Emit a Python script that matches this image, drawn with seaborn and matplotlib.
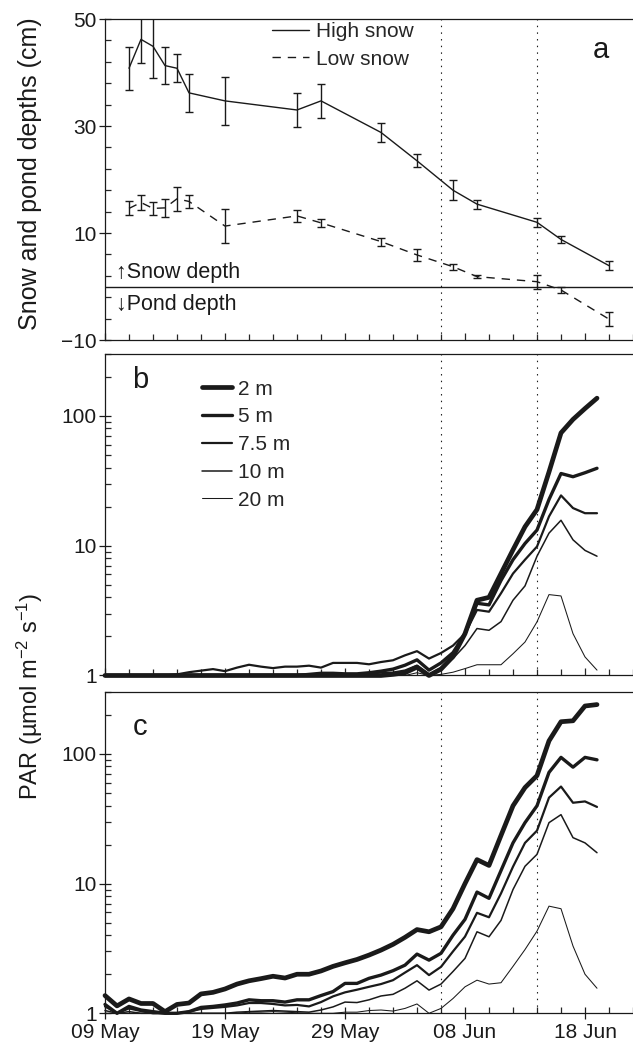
import numpy as np
import pandas as pd
import matplotlib
matplotlib.use("Agg")
import matplotlib.pyplot as plt
import seaborn as sns
from matplotlib.ticker import FixedLocator, LogLocator, NullFormatter, FuncFormatter, MultipleLocator

# ---------------- data ----------------
snow_days = [2, 3, 4, 5, 6, 7, 10, 16, 18, 23, 26, 29, 31, 36, 38, 42]   # days after 09 May
high_snow = [40.8, 46.2, 44.9, 41.3, 40.8, 36.2, 34.7, 33.0, 34.7, 28.8, 23.5, 18.0, 15.4, 12.0, 8.8, 3.9]
high_err = [4.0, 4.4, 6.0, 3.4, 2.6, 3.5, 4.5, 3.2, 3.2, 1.8, 1.25, 1.85, 0.85, 0.9, 0.65, 0.85]
low_snow = [14.6, 15.7, 14.6, 14.7, 16.4, 15.9, 11.3, 13.2, 11.9, 8.4, 5.9, 3.7, 1.85, 0.9, -0.65, -6.1]
low_err = [1.3, 1.35, 1.15, 1.7, 2.2, 1.15, 3.2, 1.1, 0.75, 0.75, 1.1, 0.6, 0.35, 1.3, 0.6, 1.25]

par_days = list(range(42))   # daily, 09 May .. 19 Jun
depths = ["2 m", "5 m", "7.5 m", "10 m", "20 m"]

b_2m = [1.0, 1.0, 1.0, 1.0, 1.0, 1.0, 1.0, 1.0, 1.0, 1.0, 1.0, 1.0, 1.0, 1.0, 1.0, 1.0,
        1.0, 1.0, 1.0, 1.0, 1.0, 1.0, 1.0, 1.0, 1.02, 1.05, 1.16, 1.0, 1.12, 1.4, 2.1, 3.8,
        4.0, 6.1, 9.3, 14, 19, 37, 74, 94, 114, 137]
b_5m = [1.0, 1.0, 1.0, 1.0, 1.0, 1.0, 1.0, 1.0, 1.0, 1.0, 1.0, 1.0, 1.0, 1.0, 1.0, 1.0,
        1.0, 1.02, 1.04, 1.04, 1.03, 1.03, 1.05, 1.08, 1.12, 1.2, 1.32, 1.1, 1.25, 1.5, 2.1, 3.6,
        3.5, 5.4, 7.8, 10.4, 13.2, 22.7, 36, 34, 36.5, 39.5]
b_75m = [1.0, 1.0, 1.0, 1.0, 1.0, 1.0, 1.02, 1.06, 1.09, 1.12, 1.08, 1.15, 1.21, 1.17, 1.14, 1.17,
         1.17, 1.19, 1.15, 1.25, 1.25, 1.25, 1.22, 1.27, 1.31, 1.43, 1.54, 1.35, 1.49, 1.7, 2.1, 3.2,
         3.1, 4.3, 6.1, 7.8, 9.85, 16.8, 24.4, 19.5, 17.8, 17.8]
b_10m = [1.0, 1.0, 1.0, 1.0, 1.0, 1.0, 1.0, 1.0, 1.0, 1.0, 1.0, 1.0, 1.0, 1.0, 1.0, 1.0,
         1.0, 1.0, 1.0, 1.0, 1.02, 1.02, 1.02, 1.05, 1.06, 1.1, 1.2, 1.02, 1.15, 1.35, 1.7, 2.3,
         2.23, 2.6, 3.8, 4.9, 8.3, 12.5, 15.7, 11.1, 9.2, 8.3]
b_20m = [1.0, 1.0, 1.0, 1.0, 1.0, 1.0, 1.0, 1.0, 1.0, 1.0, 1.0, 1.0, 1.0, 1.0, 1.0, 1.0,
         1.0, 1.0, 1.0, 1.0, 1.0, 1.0, 1.0, 1.0, 1.0, 1.0, 1.05, 1.0, 1.02, 1.06, 1.13, 1.21,
         1.21, 1.21, 1.47, 1.81, 2.59, 4.2, 4.1, 2.1, 1.39, 1.1]

c_2m = [1.37, 1.14, 1.29, 1.19, 1.19, 1.03, 1.17, 1.2, 1.41, 1.45, 1.54, 1.68, 1.78, 1.85, 1.93, 1.87,
        2.0, 2.0, 2.12, 2.3, 2.45, 2.6, 2.81, 3.07, 3.4, 3.85, 4.42, 4.25, 4.64, 6.4, 10.0, 15.3,
        13.8, 23.5, 39.8, 55, 68, 126, 177, 180, 234, 240]
c_5m = [1.17, 1.0, 1.13, 1.06, 1.03, 1.0, 1.0, 1.03, 1.11, 1.13, 1.16, 1.2, 1.27, 1.25, 1.25, 1.22,
        1.27, 1.27, 1.37, 1.47, 1.7, 1.7, 1.86, 1.97, 2.13, 2.35, 2.86, 2.57, 2.9, 4.0, 5.3, 8.6,
        7.7, 12.6, 20.6, 29.5, 39.8, 72, 94, 79, 94, 90]
c_75m = [1.13, 1.0, 1.09, 1.04, 1.0, 1.0, 1.0, 1.03, 1.08, 1.1, 1.12, 1.15, 1.2, 1.2, 1.18, 1.15,
         1.16, 1.13, 1.22, 1.35, 1.45, 1.52, 1.6, 1.68, 1.8, 2.06, 2.35, 1.97, 2.28, 3.0, 3.9, 5.95,
         5.5, 8.4, 13.5, 20.6, 25.6, 46, 56, 42, 43, 39]
c_10m = [1.05, 1.0, 1.03, 1.0, 1.0, 1.0, 1.0, 1.0, 1.0, 1.0, 1.0, 1.02, 1.03, 1.04, 1.05, 1.04,
         1.03, 1.02, 1.06, 1.12, 1.22, 1.21, 1.27, 1.36, 1.4, 1.56, 1.78, 1.51, 1.68, 2.1, 2.65, 4.25,
         3.89, 5.2, 9.0, 13.6, 16.8, 29.5, 34, 22.6, 20.6, 17.3]
c_20m = [1.0, 1.0, 1.0, 1.0, 1.0, 1.0, 1.0, 1.0, 1.0, 1.0, 1.0, 1.0, 1.02, 1.02, 1.03, 1.02,
         1.01, 1.0, 1.0, 1.0, 1.02, 1.02, 1.05, 1.06, 1.04, 1.09, 1.18, 1.0, 1.09, 1.3, 1.6, 1.8,
         1.68, 1.72, 2.3, 3.1, 4.3, 6.7, 6.4, 3.3, 2.0, 1.56]

event_days = [28, 36]          # 06 Jun and 14 Jun
tick_days = [0, 10, 20, 30, 40]
tick_labels = ["09 May", "19 May", "29 May", "08 Jun", "18 Jun"]

# ---------------- style ----------------
sns.set_style("ticks")
plt.rcParams["font.family"] = ["Liberation Sans", "DejaVu Sans"]
plt.rcParams["mathtext.fontset"] = "custom"
plt.rcParams["mathtext.rm"] = "Liberation Sans"
plt.rcParams["mathtext.it"] = "Liberation Sans:italic"
plt.rcParams["axes.linewidth"] = 0.9
INK = "#1a1a1a"
TICK_FS = 15

widths = {"2 m": 3.4, "5 m": 2.4, "7.5 m": 1.6, "10 m": 1.1, "20 m": 0.75}

fig = plt.figure(figsize=(6.33, 10.52), dpi=100)
L = 105 / 633
ax_a = fig.add_axes([L, 0.6768, 1 - L, 0.3051])
ax_b = fig.add_axes([L, 0.3579, 1 - L, 0.3056])
ax_c = fig.add_axes([L, 0.0368, 1 - L, 0.3054])


def common_x(ax, labels):
    ax.set_xlim(0, 44)
    ax.xaxis.set_major_locator(FixedLocator(tick_days))
    ax.xaxis.set_minor_locator(MultipleLocator(2))
    if labels:
        ax.set_xticklabels(tick_labels)
        ax.tick_params(axis="x", which="major", direction="inout", length=8, width=0.9,
                       labelsize=TICK_FS, colors=INK, pad=3)
    else:
        ax.set_xticklabels([])
        ax.tick_params(axis="x", which="major", direction="in", length=5, width=0.9)
    ax.tick_params(axis="x", which="minor", direction="in", length=4, width=0.9)
    ax.spines["right"].set_visible(False)
    for s in ["left", "top", "bottom"]:
        ax.spines[s].set_color(INK)
    for d in event_days:
        ax.axvline(d, color=INK, lw=0.8, ls=(0, (1.3, 4.7)), zorder=1)


# ---------------- panel a ----------------
sns.lineplot(x=snow_days, y=high_snow, ax=ax_a, color=INK, lw=1.0, label="High snow")
sns.lineplot(x=snow_days, y=low_snow, ax=ax_a, color=INK, lw=1.0, ls=(0, (6, 5)), label="Low snow")
ax_a.errorbar(snow_days, high_snow, yerr=high_err, fmt="none", ecolor=INK, elinewidth=1.0,
              capsize=2.8, capthick=1.0)
ax_a.errorbar(snow_days, low_snow, yerr=low_err, fmt="none", ecolor=INK, elinewidth=1.0,
              capsize=2.8, capthick=1.0)
ax_a.axhline(0, color=INK, lw=1.0)
ax_a.set_ylim(-10, 50)
ax_a.yaxis.set_major_locator(FixedLocator([-10, 10, 30, 50]))
ax_a.yaxis.set_minor_locator(FixedLocator(list(range(-10, 51, 4))))
ax_a.tick_params(axis="y", which="major", direction="inout", length=8, width=0.9,
                 labelsize=TICK_FS, colors=INK, pad=2)
ax_a.tick_params(axis="y", which="minor", direction="in", length=4, width=0.9)
common_x(ax_a, False)
h, l = ax_a.get_legend_handles_labels()
ax_a.legend(h[:2], l[:2], loc="upper left", bbox_to_anchor=(0.316, 0.99), frameon=False,
            fontsize=15, handlelength=1.8, handletextpad=0.3, labelspacing=0.4,
            borderpad=0, borderaxespad=0)
ax_a.text(0.939, 0.903, "a", transform=ax_a.transAxes, fontsize=21, ha="center", va="center", color=INK)
ax_a.text(0.021, 2.6, "↑Snow depth", transform=ax_a.get_yaxis_transform(), fontsize=15.5,
          ha="left", va="center", color=INK)
ax_a.text(0.021, -3.4, "↓Pond depth", transform=ax_a.get_yaxis_transform(), fontsize=15.5,
          ha="left", va="center", color=INK)
ax_a.set_ylabel("")
ax_a.set_xlabel("")


# ---------------- panels b, c ----------------
def par_panel(ax, series, letter, letter_y, legend, xlabels):
    for name, vals in zip(depths, series):
        sns.lineplot(x=par_days, y=vals, ax=ax, color=INK, lw=widths[name], label=name,
                     legend=False)
    for line in ax.get_lines():
        line.set_clip_on(False)
        line.set_solid_joinstyle("round")
    ax.set_yscale("log")
    ax.set_ylim(1, 300)
    ax.yaxis.set_major_locator(FixedLocator([1, 10, 100]))
    ax.yaxis.set_major_formatter(FuncFormatter(lambda v, p: f"{v:g}"))
    ax.yaxis.set_minor_locator(LogLocator(base=10, subs=[2, 3, 4, 5, 6, 7, 8, 9]))
    ax.yaxis.set_minor_formatter(NullFormatter())
    ax.tick_params(axis="y", which="major", direction="inout", length=8, width=0.9,
                   labelsize=TICK_FS, colors=INK, pad=2)
    ax.tick_params(axis="y", which="minor", direction="in", length=4, width=0.9)
    common_x(ax, xlabels)
    ax.text(0.066, letter_y, letter, transform=ax.transAxes, fontsize=21, ha="center",
            va="center", color=INK)
    if legend:
        hh = ax.get_lines()[:5]
        ax.legend(hh, depths, loc="upper left", bbox_to_anchor=(0.184, 0.92), frameon=False,
                  fontsize=15, handlelength=1.45, handletextpad=0.25, labelspacing=0.42,
                  borderpad=0, borderaxespad=0)
    ax.set_ylabel("")
    ax.set_xlabel("")


par_panel(ax_b, [b_2m, b_5m, b_75m, b_10m, b_20m], "b", 0.919, True, False)
par_panel(ax_c, [c_2m, c_5m, c_75m, c_10m, c_20m], "c", 0.891, False, True)

fig.text(30 / 633, 1 - 174 / 1052, "Snow and pond depths (cm)", rotation=90, ha="center",
         va="center", fontsize=18, color=INK)
fig.text(30 / 633, 1 - 696 / 1052, "PAR (µmol m$^{-2}$ s$^{-1}$)", rotation=90, ha="center",
         va="center", fontsize=17, color=INK)

fig.savefig("out.png", dpi=100)
